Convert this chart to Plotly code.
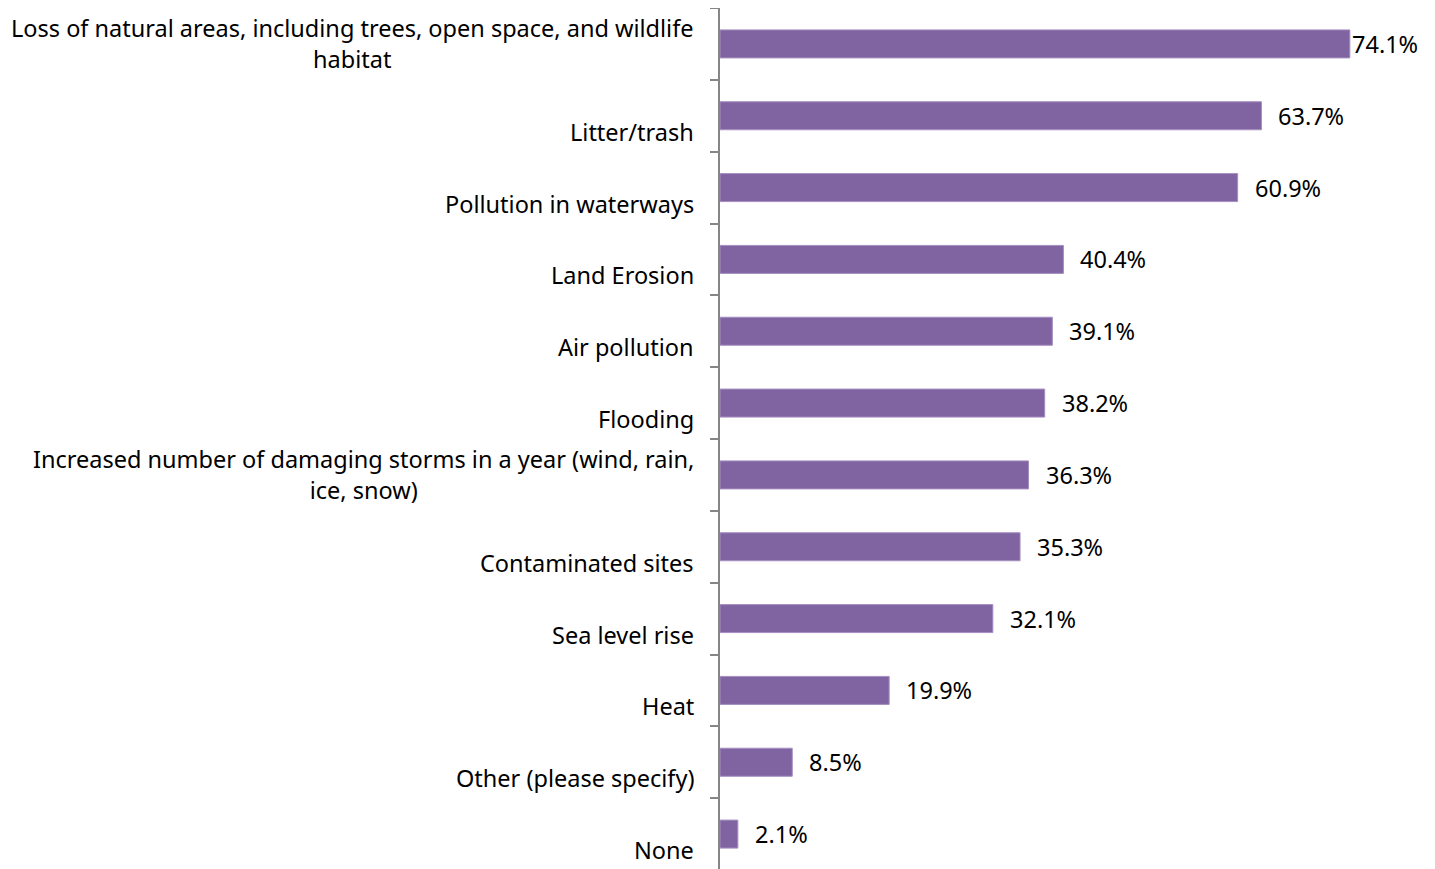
import plotly.graph_objects as go

categories = [
    "Loss of natural areas, including trees, open space, and wildlife<br>habitat",
    "Litter/trash",
    "Pollution in waterways",
    "Land Erosion",
    "Air pollution",
    "Flooding",
    "Increased number of damaging storms in a year (wind, rain,<br>ice, snow)",
    "Contaminated sites",
    "Sea level rise",
    "Heat",
    "Other (please specify)",
    "None",
]
values = [74.1, 63.7, 60.9, 40.4, 39.1, 38.2, 36.3, 35.3, 32.1, 19.9, 8.5, 2.1]
value_labels = ["74.1%", "63.7%", "60.9%", "40.4%", "39.1%", "38.2%", "36.3%",
                "35.3%", "32.1%", "19.9%", "8.5%", "2.1%"]

FONT = "Noto Sans"
FS = 23.5
fig = go.Figure(go.Bar(
    x=values, y=categories, orientation="h",
    marker=dict(color="#8064A2", line=dict(color="#A48FC0", width=1)),
    hoverinfo="skip",
))

for i, (c, v, t) in enumerate(zip(categories, values, value_labels)):
    fig.add_annotation(x=v, y=c, xref="x", yref="y", text=t, showarrow=False,
                       xanchor="left", xshift=(0 if i == 0 else 15),
                       font=dict(family=FONT, size=FS, color="#000"))
    fig.add_annotation(x=0, y=c, xref="paper", yref="y", text=c, showarrow=False,
                       xanchor="right", align="center", xshift=-24,
                       yshift=(0 if "<br>" in c else -16),
                       font=dict(family=FONT, size=FS, color="#000"))

fig.update_layout(
    width=1435, height=862,
    margin=dict(l=712, r=43, t=0, b=0),
    paper_bgcolor="white", plot_bgcolor="white",
    bargap=0.61, showlegend=False,
    xaxis=dict(range=[0, 80], visible=False),
    yaxis=dict(autorange="reversed", showticklabels=False, tickson="boundaries",
               ticks="outside", ticklen=8, tickcolor="#868686", tickwidth=1.5,
               showline=True, linecolor="#868686", linewidth=1.5, showgrid=False),
)
fig.write_html("out.html")
